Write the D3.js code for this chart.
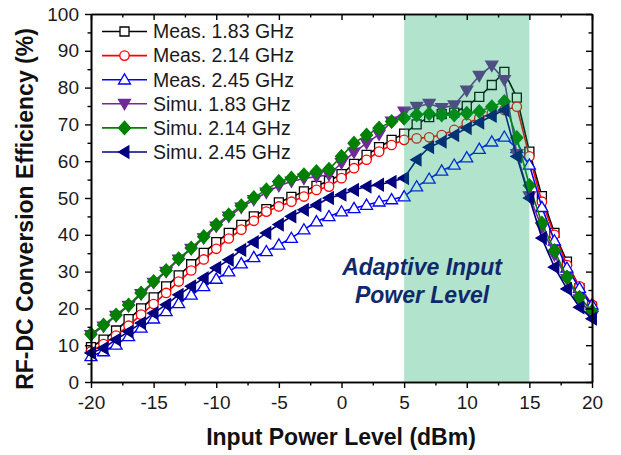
<!DOCTYPE html>
<html>
<head>
<meta charset="utf-8">
<title>RF-DC Conversion Efficiency</title>
<script src="https://cdn.jsdelivr.net/npm/d3@7"></script>
<style>
  body { margin: 0; background: #fff; }
  svg { font-family: "Liberation Sans", Arial, sans-serif; }
</style>
</head>
<body>
<script>
// input power (dBm)
var power = [-20,-19,-18,-17,-16,-15,-14,-13,-12,-11,-10,-9,-8,-7,-6,-5,-4,-3,-2,-1,
             0,1,2,3,4,5,6,7,8,9,10,11,12,13,14,15,16,17,18,19,20];

// efficiency (%)
var meas183 = [9.5,11.5,14.0,17.1,20.0,23.0,26.0,29.0,32.0,35.1,38.0,40.5,42.7,45.0,47.0,48.8,50.3,51.8,53.3,54.6,
               56.5,59.3,61.7,63.8,65.8,67.5,70.0,72.0,72.8,73.2,75.0,77.5,80.7,84.3,77.3,62.6,50.5,40.5,32.7,25.5,20.5];
var meas214 = [8.3,10.3,12.6,15.3,18.3,21.2,24.2,27.3,30.3,33.3,36.2,39.0,41.4,43.8,46.3,47.7,49.0,50.4,52.2,53.1,
               55.4,58.1,60.4,62.6,64.4,65.8,66.2,66.5,67.1,68.5,70.3,71.7,73.0,73.9,74.8,61.3,49.0,40.0,31.8,26.0,21.0];
var meas245 = [7.0,8.3,10.1,12.4,14.7,17.2,19.2,21.4,23.7,26.0,28.0,30.0,32.2,33.9,35.5,37.3,39.1,41.4,43.6,45.0,
               46.3,47.2,48.1,49.0,49.6,50.4,53.1,55.2,57.4,59.0,61.0,63.3,65.3,66.6,63.5,59.0,47.5,38.4,31.0,25.5,21.0];
var simu183 = [12.8,15.1,18.0,20.7,23.9,27.0,30.0,33.3,36.2,39.1,42.3,45.0,47.4,49.5,51.5,53.3,54.5,55.3,55.8,56.3,
               59.5,62.4,64.9,67.3,70.8,73.5,74.8,75.6,74.5,75.2,79.2,83.2,86.0,82.1,62.0,50.5,42.0,34.5,28.0,22.5,18.0];
var simu214 = [13.0,15.5,18.2,20.9,24.2,27.3,30.3,33.5,36.4,39.5,42.7,45.4,47.9,50.1,52.2,54.5,55.4,56.3,57.2,57.8,
               61.3,64.9,67.1,69.0,70.8,71.7,72.6,72.9,72.6,72.6,73.0,73.5,74.8,76.2,66.4,53.4,43.2,35.7,28.5,23.0,19.2];
var simu245 = [7.9,9.2,11.5,13.7,16.0,18.7,21.0,23.7,26.0,28.2,31.0,33.2,35.9,38.0,40.5,42.8,45.0,46.8,48.1,50.0,
               50.9,52.2,53.1,53.6,54.4,55.4,60.4,63.8,65.3,67.1,69.0,70.5,72.3,73.9,61.3,50.0,39.1,31.2,25.3,20.3,17.2];

var seriesNames = ["Meas. 1.83 GHz","Meas. 2.14 GHz","Meas. 2.45 GHz","Simu. 1.83 GHz","Simu. 2.14 GHz","Simu. 2.45 GHz"];
var seriesData = [meas183, meas214, meas245, simu183, simu214, simu245];

var xTicks = [-20,-15,-10,-5,0,5,10,15,20];
var yTicks = [0,10,20,30,40,50,60,70,80,90,100];
var adaptiveBand = [5, 15];

// styling
var colors  = ["#000000","#ff0000","#0000ff","#6f2a96","#008000","#000080"];
var shapes  = ["square","circle","triUp","triDown","diamond","triLeft"];
var filled  = [false,false,false,true,true,true];

var W = 621, H = 455;
var x = d3.scaleLinear().domain([-20, 20]).range([91, 592]);
var y = d3.scaleLinear().domain([0, 100]).range([382, 14]);

var svg = d3.select("body").append("svg")
    .attr("width", W).attr("height", H);

function marker(type) {
  switch (type) {
    case "square":  return "M-4.5,-4.5H4.5V4.5H-4.5Z";
    case "circle":  return "M-4.7,0A4.7,4.7 0 1,0 4.7,0A4.7,4.7 0 1,0 -4.7,0Z";
    case "triUp":   return "M0,-5.9L6,4.3L-6,4.3Z";
    case "triDown": return "M0,5.9L6,-4.3L-6,-4.3Z";
    case "diamond": return "M0,-6.6L6,0L0,6.6L-6,0Z";
    case "triLeft": return "M-5.9,0L4.3,-6L4.3,6Z";
  }
}

var line = d3.line()
    .x(function(d, i){ return x(power[i]); })
    .y(function(d){ return y(d); });

// series
seriesData.forEach(function(vals, k) {
  var g = svg.append("g");
  g.append("path")
      .attr("d", line(vals))
      .attr("fill", "none")
      .attr("stroke", colors[k])
      .attr("stroke-width", 1.6);
  g.selectAll("path.m").data(vals).enter().append("path")
      .attr("class", "m")
      .attr("d", marker(shapes[k]))
      .attr("transform", function(d, i){ return "translate(" + x(power[i]) + "," + y(d) + ")"; })
      .attr("fill", filled[k] ? colors[k] : "#fff")
      .attr("stroke", colors[k])
      .attr("stroke-width", 1.3);
});

// adaptive input power band (semi transparent, drawn over the data)
svg.append("rect")
    .attr("x", x(adaptiveBand[0]))
    .attr("y", y(100))
    .attr("width", x(adaptiveBand[1]) - x(adaptiveBand[0]))
    .attr("height", y(0) - y(100))
    .attr("fill", "rgb(0,166,90)")
    .attr("fill-opacity", 0.3);

var note = svg.append("text")
    .attr("text-anchor", "middle")
    .attr("font-size", 23)
    .attr("font-weight", "bold")
    .attr("font-style", "italic")
    .attr("fill", "#10296b");
note.append("tspan").attr("x", 422).attr("y", 275).text("Adaptive Input");
note.append("tspan").attr("x", 422).attr("y", 303).text("Power Level");

// axes
var fmt = function(d){ return String(d); };
function styleAxis(g) {
  g.selectAll("path.domain").attr("stroke", "#000").attr("stroke-width", 1.6);
  g.selectAll(".tick line").attr("stroke", "#000").attr("stroke-width", 1.4);
  g.selectAll("text").attr("font-size", 19).attr("fill", "#1a1a1a")
      .attr("font-family", "'Liberation Sans', Arial, sans-serif");
}
var xMinor = d3.range(-17.5, 20, 5);
var yMinor = d3.range(5, 100, 10);

svg.append("g").attr("transform", "translate(0," + y(0) + ")")
    .call(d3.axisBottom(x).tickValues(xTicks).tickFormat(fmt).tickSize(6).tickSizeOuter(0).tickPadding(8))
    .call(styleAxis);
svg.append("g").attr("transform", "translate(0," + y(0) + ")")
    .call(d3.axisBottom(x).tickValues(xMinor).tickFormat("").tickSize(3.5).tickSizeOuter(0))
    .call(styleAxis);
svg.append("g").attr("transform", "translate(0," + y(100) + ")")
    .call(d3.axisTop(x).tickValues(xTicks).tickFormat("").tickSize(-6).tickSizeOuter(0))
    .call(styleAxis);
svg.append("g").attr("transform", "translate(0," + y(100) + ")")
    .call(d3.axisTop(x).tickValues(xMinor).tickFormat("").tickSize(-3.5).tickSizeOuter(0))
    .call(styleAxis);
svg.append("g").attr("transform", "translate(" + x(-20) + ",0)")
    .call(d3.axisLeft(y).tickValues(yTicks).tickFormat(fmt).tickSize(6).tickSizeOuter(0).tickPadding(6))
    .call(styleAxis);
svg.append("g").attr("transform", "translate(" + x(-20) + ",0)")
    .call(d3.axisLeft(y).tickValues(yMinor).tickFormat("").tickSize(3.5).tickSizeOuter(0))
    .call(styleAxis);
svg.append("g").attr("transform", "translate(" + x(20) + ",0)")
    .call(d3.axisRight(y).tickValues(yTicks).tickFormat("").tickSize(-6).tickSizeOuter(0))
    .call(styleAxis);
svg.append("g").attr("transform", "translate(" + x(20) + ",0)")
    .call(d3.axisRight(y).tickValues(yMinor).tickFormat("").tickSize(-3.5).tickSizeOuter(0))
    .call(styleAxis);

// axis titles
svg.append("text")
    .attr("x", 341).attr("y", 445)
    .attr("text-anchor", "middle")
    .attr("font-size", 23).attr("font-weight", "bold").attr("fill", "#111")
    .text("Input Power Level (dBm)");
svg.append("text")
    .attr("transform", "translate(33,209) rotate(-90)")
    .attr("text-anchor", "middle")
    .attr("font-size", 23).attr("font-weight", "bold").attr("fill", "#111")
    .text("RF-DC Conversion Efficiency (%)");

// legend
var leg = svg.append("g");
seriesNames.forEach(function(name, k) {
  var ly = 31.5 + k * 24.1;
  leg.append("line")
      .attr("x1", 102).attr("x2", 147).attr("y1", ly).attr("y2", ly)
      .attr("stroke", colors[k]).attr("stroke-width", 1.6);
  leg.append("path")
      .attr("d", marker(shapes[k]))
      .attr("transform", "translate(124.5," + ly + ")")
      .attr("fill", filled[k] ? colors[k] : "#fff")
      .attr("stroke", colors[k]).attr("stroke-width", 1.3);
  leg.append("text")
      .attr("x", 153).attr("y", ly + 6.8)
      .attr("font-size", 19.5).attr("fill", "#1a1a1a")
      .text(name);
});
</script>
</body>
</html>
